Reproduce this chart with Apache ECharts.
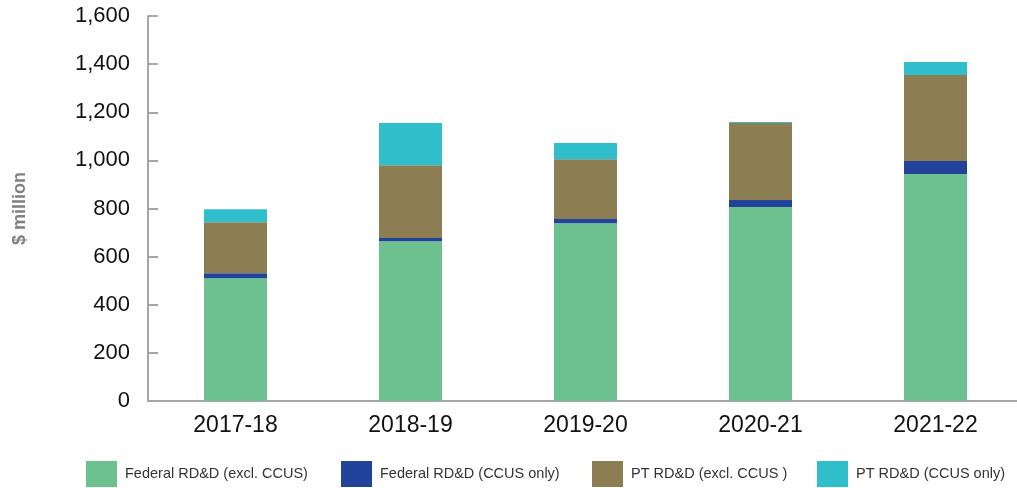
<!DOCTYPE html>
<html>
<head>
<meta charset="utf-8">
<script src="https://cdn.jsdelivr.net/npm/echarts@6/dist/echarts.min.js"></script>
<style>
html,body{margin:0;padding:0;background:#fff;}
#c{width:1017px;height:488px;}
</style>
</head>
<body>
<div id="c"></div>
<script>
const categories = ['2017-18', '2018-19', '2019-20', '2020-21', '2021-22'];
const seriesNames = ['Federal RD&D (excl. CCUS)', 'Federal RD&D (CCUS only)', 'PT RD&D (excl. CCUS )', 'PT RD&D (CCUS only)'];
const federalExcl = [510, 664, 739, 806, 943];
const federalCcus = [21, 13, 17, 29, 54];
const ptExcl = [212, 303, 249, 320, 358];
const ptCcus = [54, 175, 67, 5, 54];
const yTicks = [0, 200, 400, 600, 800, 1000, 1200, 1400, 1600];

const colors = ['#6cc18e', '#21449a', '#8d7d52', '#31becb'];
const FONT = '"Liberation Sans Narrow", "Arial Narrow", "Liberation Sans", Arial, sans-serif';
const values = [federalExcl, federalCcus, ptExcl, ptCcus];
const legendLeft = [81, 336, 587, 812];

const chart = echarts.init(document.getElementById('c'), null, {renderer: 'canvas'});
const option = {
  animation: false,
  color: colors,
  grid: {left: 148, right: -6, top: 16, bottom: 87, containLabel: false, outerBoundsMode: 'none'},
  legend: seriesNames.map((n, i) => ({
    data: [n], left: legendLeft[i], top: 456,
    itemWidth: 31, itemHeight: 26, itemGap: 8, icon: 'rect',
    textStyle: {fontFamily: FONT, fontSize: 14.5, color: '#333', padding: [3, 0, 0, 3]}
  })),
  xAxis: {
    type: 'category', data: categories,
    axisLine: {lineStyle: {color: '#a6a6a6', width: 2}},
    axisTick: {inside: true, length: 9, lineStyle: {color: '#a6a6a6', width: 2}},
    axisLabel: {fontFamily: FONT, fontSize: 23, color: '#111', margin: 13}
  },
  yAxis: {
    type: 'value', min: yTicks[0], max: yTicks[yTicks.length - 1], interval: 200,
    name: '$ million', nameLocation: 'middle', nameGap: 119,
    nameTextStyle: {fontFamily: FONT, fontSize: 18, fontWeight: 'bold', color: '#808080'},
    axisLine: {show: true, lineStyle: {color: '#a6a6a6', width: 2}},
    axisTick: {show: true, inside: true, length: 10, lineStyle: {color: '#a6a6a6', width: 2}},
    splitLine: {show: false},
    axisLabel: {fontFamily: FONT, fontSize: 22, color: '#111', margin: 18,
      formatter: v => v.toLocaleString('en-US')}
  },
  series: seriesNames.map((n, i) => ({
    name: n, type: 'bar', stack: 'total', barWidth: 63,
    data: values[i], itemStyle: {color: colors[i]}
  }))
};
chart.setOption(option);
</script>
</body>
</html>
